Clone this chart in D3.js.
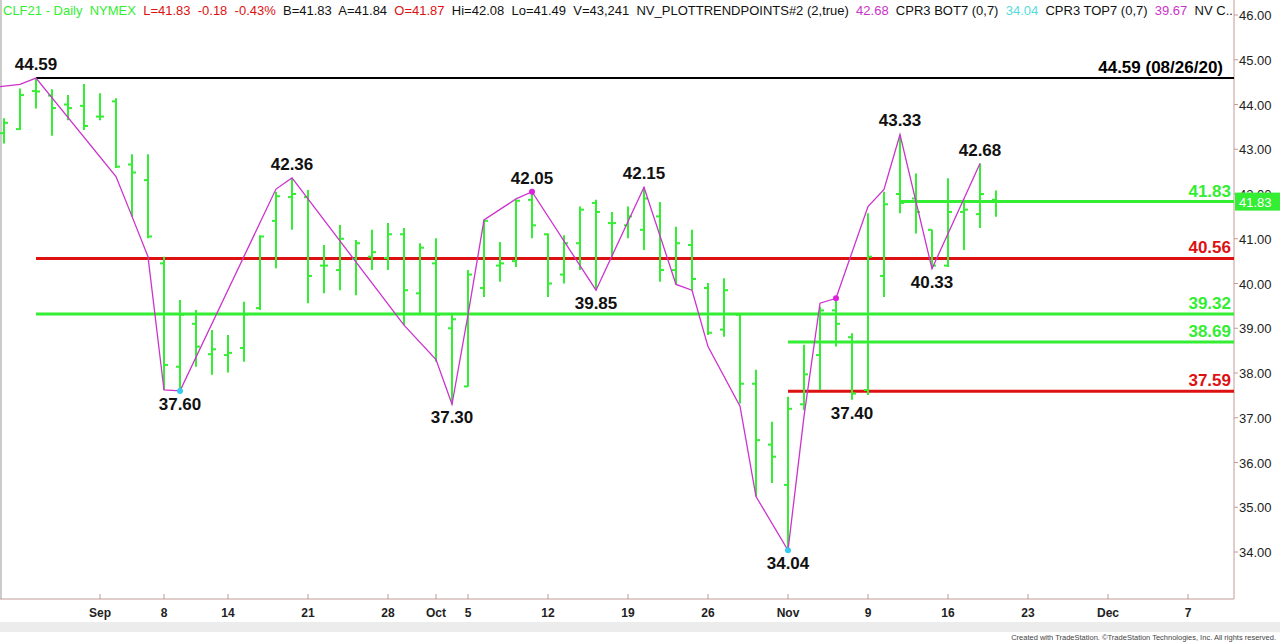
<!DOCTYPE html>
<html>
<head>
<meta charset="utf-8">
<script src="https://cdn.jsdelivr.net/npm/d3@7"></script>
<style>
  body { margin: 0; background: #fff; }
  text { font-family: "Liberation Sans", Arial, sans-serif; }
</style>
</head>
<body>
<script>
// trading days, OHLC
var dates = ["2020-08-24","2020-08-25","2020-08-26","2020-08-27","2020-08-28","2020-08-31",
  "2020-09-01","2020-09-02","2020-09-03","2020-09-04","2020-09-08","2020-09-09","2020-09-10","2020-09-11",
  "2020-09-14","2020-09-15","2020-09-16","2020-09-17","2020-09-18","2020-09-21","2020-09-22","2020-09-23",
  "2020-09-24","2020-09-25","2020-09-28","2020-09-29","2020-09-30",
  "2020-10-01","2020-10-02","2020-10-05","2020-10-06","2020-10-07","2020-10-08","2020-10-09","2020-10-12",
  "2020-10-13","2020-10-14","2020-10-15","2020-10-16","2020-10-19","2020-10-20","2020-10-21","2020-10-22",
  "2020-10-23","2020-10-26","2020-10-27","2020-10-28","2020-10-29","2020-10-30",
  "2020-11-02","2020-11-03","2020-11-04","2020-11-05","2020-11-06","2020-11-09","2020-11-10","2020-11-11",
  "2020-11-12","2020-11-13","2020-11-16","2020-11-17","2020-11-18","2020-11-19"];
var opens = [43.36,43.45,44.30,44.20,44.00,43.97, 43.73,44.07,42.66,42.31,40.45,38.14,39.10,38.42,
  38.40,38.56,39.45,41.40,41.93,41.93,40.40,40.30,40.55,40.60,40.57,41.10,39.78,
  40.45,39.00,37.70,39.90,40.40,40.50,41.87,41.10,40.20,40.90,41.80,41.35,41.30,41.20,41.50,40.30,
  40.86,39.90,38.97,39.30,37.76,36.40, 35.50,37.30,38.40,39.40,38.80,37.62,40.17,42.00,
  41.90,41.20,40.40,41.60,41.55,41.87];
var highs = [43.69,44.36,44.59,44.34,44.21,44.46, 44.25,44.14,42.89,42.89,40.60,39.63,39.41,38.96,
  38.85,39.59,41.08,42.05,42.36,42.09,40.86,41.31,40.97,41.20,41.35,41.24,40.90,
  41.01,39.30,40.30,41.42,40.93,41.87,42.05,41.12,41.08,41.72,41.87,41.60,41.72,42.15,41.82,41.27,
  41.20,40.01,40.12,39.30,38.07,36.91, 37.47,38.63,39.48,39.67,38.89,41.57,42.05,43.33,
  42.46,41.20,42.35,41.87,42.68,42.08];
var lows = [43.13,43.43,43.91,43.30,43.65,43.43, 43.65,42.58,41.49,41.01,37.62,37.60,38.14,37.96,
  38.01,38.25,39.41,40.34,41.20,39.56,39.78,39.85,39.74,40.30,40.30,39.07,39.30,
  38.25,37.30,37.69,39.70,40.04,40.37,41.01,39.70,40.00,40.30,39.85,40.60,41.01,40.75,40.04,39.97,
  39.85,38.85,38.81,37.32,35.24,35.54, 34.04,37.17,37.62,38.59,37.40,37.51,39.70,41.57,
  41.12,40.33,40.37,40.75,41.24,41.49];
var closes = [43.59,44.21,44.29,43.92,43.92,43.52, 43.73,42.61,42.48,41.05,38.18,39.30,38.59,38.53,
  38.45,39.31,41.05,41.95,42.00,40.17,40.40,41.00,40.90,40.70,41.10,39.85,40.80,
  39.30,39.20,40.20,41.40,40.45,41.85,41.30,40.00,40.90,41.65,41.60,41.35,41.50,41.90,40.30,40.90,
  40.10,38.90,39.85,37.76,36.50,36.13, 37.20,37.97,39.40,39.10,37.54,40.60,41.77,41.80,
  41.60,40.40,41.60,41.65,42.00,41.83];

// swing line
var swingDates = ["2020-08-24","2020-08-25","2020-08-26","2020-09-02","2020-09-03","2020-09-04","2020-09-08",
  "2020-09-09","2020-09-17","2020-09-18","2020-09-29","2020-10-01","2020-10-02","2020-10-05","2020-10-06",
  "2020-10-08","2020-10-09","2020-10-15","2020-10-20","2020-10-22","2020-10-23","2020-10-26","2020-10-28",
  "2020-10-29","2020-11-02","2020-11-03","2020-11-04","2020-11-05","2020-11-09","2020-11-10","2020-11-11",
  "2020-11-13","2020-11-18"];
var swingValues = [44.40,44.45,44.59,42.39,41.50,40.60,37.62,37.60,42.11,42.36,39.07,38.30,37.30,39.30,41.42,
  41.89,42.05,39.85,42.15,39.98,39.85,38.59,37.26,35.24,34.04,37.03,39.56,39.67,41.72,42.10,43.33,40.33,42.68];

// pivot labels
var pivotDates = ["2020-08-26","2020-09-18","2020-09-09","2020-10-09","2020-10-02","2020-10-20","2020-10-15",
  "2020-11-11","2020-11-18","2020-11-13","2020-11-02","2020-11-06"];
var pivotValues = [44.59,42.36,37.60,42.05,37.30,42.15,39.85,43.33,42.68,40.33,34.04,37.40];
var pivotAbove = [true,true,false,true,false,true,false,true,true,false,false,false];

// markers
var dotDates = ["2020-10-09","2020-11-05","2020-09-09","2020-11-02"];
var dotValues = [42.05,39.67,37.60,34.04];
var dotColors = ["#dd22dd","#dd22dd","#33ccee","#33ccee"];

// horizontal levels
var levelValues = [44.59,41.83,40.56,39.32,38.69,37.59];
var levelStart = ["2020-08-26","2020-11-11","2020-08-26","2020-08-26","2020-11-02","2020-11-02"];
var levelColors = ["#000000","#33ee33","#dd1111","#33ee33","#33ee33","#dd1111"];
var levelText = ["44.59 (08/26/20)","41.83","40.56","39.32","38.69","37.59"];

var priceTicks = [34,35,36,37,38,39,40,41,42,43,44,45,46];
var dateTickDays = ["2020-09-01","2020-09-08","2020-09-14","2020-09-21","2020-09-28","2020-10-01","2020-10-05",
  "2020-10-12","2020-10-19","2020-10-26","2020-11-02","2020-11-09","2020-11-16","2020-11-23","2020-11-30","2020-12-07"];
var dateTickLabels = ["Sep","8","14","21","28","Oct","5","12","19","26","Nov","9","16","23","Dec","7"];

var W = 1280, H = 642, plotRight = 1234, plotBottom = 599;
var green = "#33ee33", red = "#dd1111";

var parse = d3.timeParse("%Y-%m-%d");
var origin = parse(dates[0]);
//trading day index: weekdays since first bar, Labor Day skipped
function idx(s){
  return d3.timeDay.range(origin, parse(s)).filter(function(d){
    return d.getDay() % 6 !== 0 && d3.timeFormat("%m-%d")(d) !== "09-07";
  }).length;
}

var x = d3.scaleLinear().domain([0, 1]).range([4, 20]);
var y = d3.scaleLinear().domain([34, 46]).range([552, 15]);

var svg = d3.select("body").append("svg").attr("width", W).attr("height", H);

svg.append("defs").append("clipPath").attr("id", "hdr")
  .append("rect").attr("x", 0).attr("y", 0).attr("width", 1232).attr("height", 20);

// frame
svg.append("line").attr("x1", 1).attr("x2", 1).attr("y1", 0).attr("y2", plotBottom)
  .attr("stroke", "#999");
svg.append("line").attr("x1", plotRight).attr("x2", plotRight).attr("y1", 0).attr("y2", plotBottom)
  .attr("stroke", "#c49a9a");
svg.append("line").attr("x1", 0).attr("x2", plotRight).attr("y1", plotBottom).attr("y2", plotBottom)
  .attr("stroke", "#c49a9a");

// price axis
var yAxis = svg.append("g");
priceTicks.forEach(function(p){
  yAxis.append("line").attr("x1", plotRight).attr("x2", plotRight + 4)
    .attr("y1", y(p)).attr("y2", y(p)).attr("stroke", "#c49a9a");
  yAxis.append("text").attr("x", plotRight + 5).attr("y", y(p) + 5)
    .attr("font-size", 13).attr("fill", "#222").text(p.toFixed(2));
});

// date axis
dateTickDays.forEach(function(d, i){
  var xx = x(idx(d));
  svg.append("line").attr("x1", xx).attr("x2", xx).attr("y1", plotBottom - 5).attr("y2", plotBottom)
    .attr("stroke", "#c49a9a");
  svg.append("text").attr("x", xx).attr("y", 617).attr("text-anchor", "middle")
    .attr("font-size", 12).attr("font-weight", "bold").attr("fill", "#222").text(dateTickLabels[i]);
});

// scrollbar + footer
svg.append("rect").attr("x", 0).attr("y", 622).attr("width", W).attr("height", 10).attr("fill", "#ececec");
svg.append("text").attr("x", 1276).attr("y", 640).attr("text-anchor", "end")
  .attr("font-size", 7.5).attr("fill", "#444")
  .text("Created with TradeStation. \u00A9TradeStation Technologies, Inc. All rights reserved.");

// levels
levelValues.forEach(function(v, i){
  svg.append("line").attr("x1", x(idx(levelStart[i]))).attr("x2", plotRight)
    .attr("y1", y(v)).attr("y2", y(v))
    .attr("stroke", levelColors[i]).attr("stroke-width", i === 0 ? 2 : 3);
  svg.append("text").attr("x", i === 0 ? 1223 : 1231).attr("y", y(v) - 5)
    .attr("text-anchor", "end").attr("font-size", 17).attr("font-weight", "bold")
    .attr("fill", levelColors[i]).text(levelText[i]);
});

// OHLC bars
var bars = svg.append("g").attr("stroke", green).attr("stroke-width", 2);
dates.forEach(function(d, i){
  var xx = x(idx(d));
  bars.append("line").attr("x1", xx).attr("x2", xx).attr("y1", y(highs[i])).attr("y2", y(lows[i]));
  bars.append("line").attr("x1", xx - 4).attr("x2", xx).attr("y1", y(opens[i])).attr("y2", y(opens[i]));
  bars.append("line").attr("x1", xx).attr("x2", xx + 4).attr("y1", y(closes[i])).attr("y2", y(closes[i]));
});

// swing line
var swing = swingDates.map(function(d, i){ return [x(idx(d)), y(swingValues[i])]; });
swing[0][0] = 0;
svg.append("path").attr("d", d3.line()(swing)).attr("fill", "none")
  .attr("stroke", "#cc33cc").attr("stroke-width", 1.3);

dotDates.forEach(function(d, i){
  svg.append("circle").attr("cx", x(idx(d))).attr("cy", y(dotValues[i])).attr("r", 3)
    .attr("fill", dotColors[i]);
});

// pivot labels
pivotDates.forEach(function(d, i){
  svg.append("text").attr("x", x(idx(d))).attr("y", y(pivotValues[i]) + (pivotAbove[i] ? -8 : 19))
    .attr("text-anchor", "middle").attr("font-size", 17).attr("font-weight", "bold")
    .attr("fill", "#111").text(pivotValues[i].toFixed(2));
});

// last price box
svg.append("rect").attr("x", plotRight + 1).attr("y", y(41.83) - 9).attr("width", 45).attr("height", 18)
  .attr("fill", green);
svg.append("text").attr("x", plotRight + 5).attr("y", y(41.83) + 5).attr("font-size", 13)
  .attr("fill", "#fff").text("41.83");

// header
var hdrParts = [["CLF21 - Daily  NYMEX", green], ["  L=41.83  -0.18  -0.43%", red],
  ["  B=41.83  A=41.84  ", "#111"], ["O=41.87", red], ["  Hi=42.08  Lo=41.49  V=43,241  NV_PLOTTRENDPOINTS#2 (2,true)  ", "#111"],
  ["42.68", "#cc33cc"], ["  CPR3 BOT7 (0,7)  ", "#111"], ["34.04", "#55dddd"],
  ["  CPR3 TOP7 (0,7)  ", "#111"], ["39.67", "#cc33cc"], ["  NV C...", "#111"]];
var hdr = svg.append("text").attr("x", 3).attr("y", 15).attr("font-size", 13)
  .attr("clip-path", "url(#hdr)").attr("xml:space", "preserve");
hdrParts.forEach(function(p){ hdr.append("tspan").attr("fill", p[1]).text(p[0]); });
</script>
</body>
</html>
